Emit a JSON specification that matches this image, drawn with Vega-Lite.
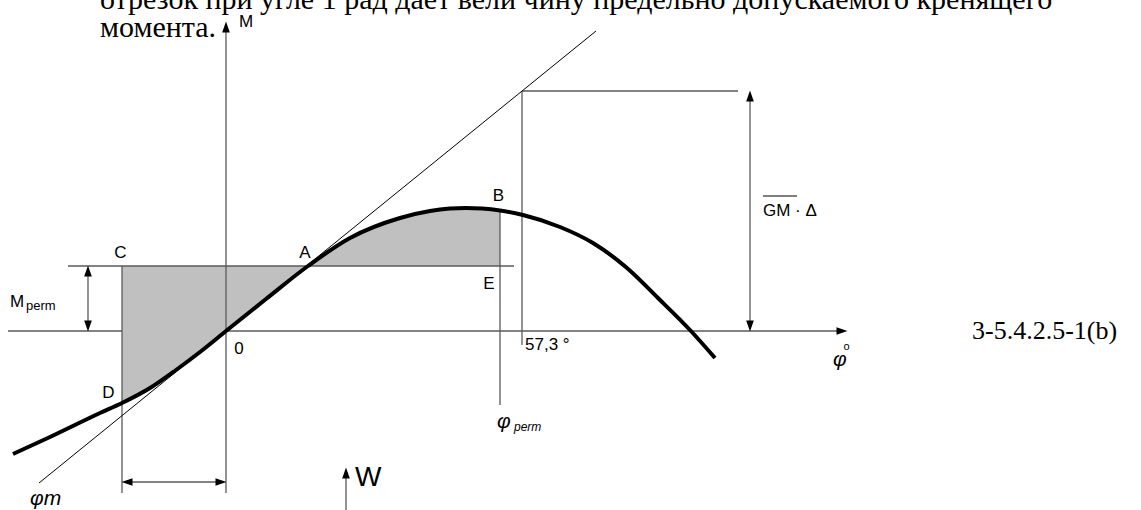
{
  "$schema": "https://vega.github.io/schema/vega-lite/v6.json",
  "width": 1141,
  "height": 510,
  "padding": 0,
  "autosize": {"type": "none"},
  "background": "white",
  "config": {"view": {"stroke": null}},
  "datasets": {
    "curve": [
      {"x": -213, "y": -123}, {"x": -176, "y": -106}, {"x": -126, "y": -82}, {"x": -104, "y": -72},
      {"x": -76, "y": -57}, {"x": -50, "y": -39}, {"x": -26, "y": -21}, {"x": 0, "y": 0},
      {"x": 40, "y": 32}, {"x": 82, "y": 65}, {"x": 124, "y": 93}, {"x": 174, "y": 113},
      {"x": 204, "y": 120}, {"x": 224, "y": 122.4}, {"x": 240, "y": 123}, {"x": 256, "y": 122.4},
      {"x": 274, "y": 120.5}, {"x": 297, "y": 116}, {"x": 334, "y": 104}, {"x": 367, "y": 88},
      {"x": 401, "y": 63}, {"x": 432, "y": 33}, {"x": 464, "y": 1}, {"x": 489, "y": -27}
    ],
    "grey": [
      {"x": -218, "y": 0, "x2": -104, "y2": 0},
      {"x": 0, "y": 0, "x2": 612, "y2": 0},
      {"x": 0, "y": 300, "x2": 0, "y2": -162},
      {"x": -158, "y": 65, "x2": 288, "y2": 65},
      {"x": -104, "y": 65, "x2": -104, "y2": -162},
      {"x": 274, "y": 120.5, "x2": 274, "y2": -74},
      {"x": 296, "y": 240, "x2": 296, "y2": -14},
      {"x": 296, "y": 240, "x2": 512, "y2": 240},
      {"x": 524, "y": 236, "x2": 524, "y2": 4},
      {"x": -138, "y": 62, "x2": -138, "y2": 3},
      {"x": -100, "y": -151, "x2": -4, "y2": -151},
      {"x": 120, "y": -146, "x2": 120, "y2": -179}
    ],
    "black": [
      {"x": -187, "y": -152, "x2": 370, "y2": 300},
      {"x": 537, "y": 135, "x2": 571, "y2": 135}
    ],
    "heads": [
      {"x": 0, "y": 304, "dir": "up"},
      {"x": 616, "y": 0, "dir": "right"},
      {"x": 524, "y": 235, "dir": "up"},
      {"x": 524, "y": 5, "dir": "down"},
      {"x": -138, "y": 60, "dir": "up"},
      {"x": -138, "y": 5, "dir": "down"},
      {"x": -99, "y": -151, "dir": "left"},
      {"x": -5, "y": -151, "dir": "right"},
      {"x": 120, "y": -142, "dir": "up"}
    ]
  },
  "encoding": {
    "x": {"field": "x", "type": "quantitative", "scale": {"domain": [-226, 915], "nice": false, "zero": false}, "axis": null},
    "y": {"field": "y", "type": "quantitative", "scale": {"domain": [-179, 331], "nice": false, "zero": false}, "axis": null}
  },
  "layer": [
    {
      "data": {"name": "curve"},
      "transform": [{"filter": "datum.x >= -104 && datum.x <= 274"}],
      "mark": {"type": "area", "interpolate": "monotone", "color": "#c0c0c0", "opacity": 1},
      "encoding": {"y2": {"datum": 65}}
    },
    {
      "data": {"name": "grey"},
      "mark": {"type": "rule", "color": "#5a5a5a", "strokeWidth": 1.3},
      "encoding": {"x2": {"field": "x2"}, "y2": {"field": "y2"}}
    },
    {
      "data": {"name": "black"},
      "mark": {"type": "rule", "color": "black", "strokeWidth": 1},
      "encoding": {"x2": {"field": "x2"}, "y2": {"field": "y2"}}
    },
    {
      "data": {"name": "curve"},
      "mark": {"type": "line", "interpolate": "monotone", "color": "black", "strokeWidth": 4},
      "encoding": {}
    },
    {
      "data": {"name": "heads"},
      "mark": {"type": "point", "filled": true, "color": "black", "opacity": 1, "size": 120},
      "encoding": {
        "shape": {"field": "dir", "type": "nominal", "legend": null,
          "scale": {"domain": ["up", "down", "left", "right"], "range": ["M0,-1L0.7,1L-0.7,1Z", "M0,1L0.7,-1L-0.7,-1Z", "M-1,0L1,0.7L1,-0.7Z", "M1,0L-1,0.7L-1,-0.7Z"]}}
      }
    },
    {
      "data": {"values": [
        {"x": -105.5, "y": 78, "t": "C"},
        {"x": 79, "y": 78.5, "t": "A"},
        {"x": 272.5, "y": 135.5, "t": "B"},
        {"x": 263, "y": 47.5, "t": "E"},
        {"x": -117.5, "y": -62, "t": "D"},
        {"x": 13, "y": -18, "t": "0"},
        {"x": 20, "y": 309, "t": "M"}
      ]},
      "mark": {"type": "text", "font": "Liberation Sans", "fontSize": 17, "align": "center", "baseline": "middle", "color": "black"},
      "encoding": {"text": {"field": "t"}}
    },
    {
      "data": {"values": [
        {"x": 299, "y": -14, "t": "57,3 °"},
        {"x": 537, "y": 120, "t": "GM · Δ"},
        {"x": -216, "y": 29.5, "t": "M"}
      ]},
      "mark": {"type": "text", "font": "Liberation Sans", "fontSize": 17, "align": "left", "baseline": "middle", "color": "black"},
      "encoding": {"text": {"field": "t"}}
    },
    {
      "data": {"values": [{"x": -200, "y": 25, "t": "perm"}]},
      "mark": {"type": "text", "font": "Liberation Sans", "fontSize": 13, "align": "left", "baseline": "middle", "color": "black"},
      "encoding": {"text": {"field": "t"}}
    },
    {
      "data": {"values": [{"x": 129, "y": -146.5, "t": "W"}]},
      "mark": {"type": "text", "font": "Liberation Sans", "fontSize": 28, "align": "left", "baseline": "middle", "color": "black"},
      "encoding": {"text": {"field": "t"}}
    },
    {
      "data": {"values": [
        {"x": -196, "y": -168, "t": "φm"},
        {"x": 271, "y": -91, "t": "φ"},
        {"x": 607, "y": -29, "t": "φ"}
      ]},
      "mark": {"type": "text", "font": "Liberation Sans", "fontStyle": "italic", "fontSize": 21, "align": "left", "baseline": "middle", "color": "black"},
      "encoding": {"text": {"field": "t"}}
    },
    {
      "data": {"values": [{"x": 288, "y": -96, "t": "perm"}]},
      "mark": {"type": "text", "font": "Liberation Sans", "fontStyle": "italic", "fontSize": 12, "align": "left", "baseline": "middle", "color": "black"},
      "encoding": {"text": {"field": "t"}}
    },
    {
      "data": {"values": [{"x": 620.5, "y": -15.5, "t": "o"}]},
      "mark": {"type": "text", "font": "Liberation Sans", "fontSize": 11, "align": "center", "baseline": "middle", "color": "black"},
      "encoding": {"text": {"field": "t"}}
    },
    {
      "data": {"values": [{"x": 746, "y": 0, "t": "3-5.4.2.5-1(b)"}]},
      "mark": {"type": "text", "font": "Liberation Serif", "fontSize": 26, "align": "left", "baseline": "middle", "color": "black"},
      "encoding": {"text": {"field": "t"}}
    },
    {
      "data": {"values": [
        {"x": -126, "y": 322, "t": "отрезок при угле 1 рад дает вели чину предельно допускаемого кренящего"},
        {"x": -126, "y": 294, "t": "момента."}
      ]},
      "mark": {"type": "text", "font": "Liberation Serif", "fontSize": 30, "align": "left", "baseline": "alphabetic", "color": "black"},
      "encoding": {"text": {"field": "t"}}
    }
  ]
}
